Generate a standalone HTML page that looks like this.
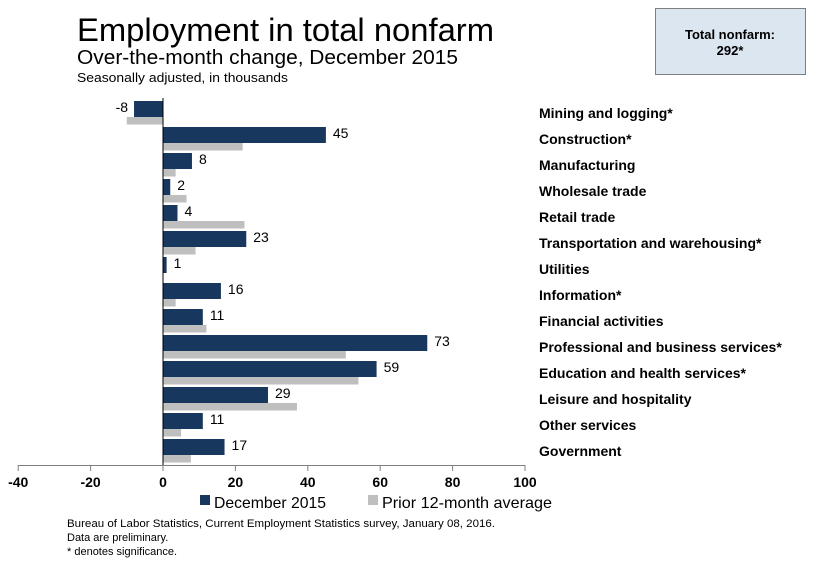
<!DOCTYPE html>
<html><head><meta charset="utf-8"><style>
body{margin:0;background:#fff;font-family:"Liberation Sans","DejaVu Sans",sans-serif;}
#wrap{position:relative;width:817px;height:571px;overflow:hidden;}
</style></head><body>
<div id="wrap">
<svg id="svg" width="817" height="571" xmlns="http://www.w3.org/2000/svg">
<text x="77" y="41" font-size="32" textLength="417" lengthAdjust="spacingAndGlyphs" fill="#000">Employment in total nonfarm</text>
<text x="77" y="64" font-size="20" textLength="381" lengthAdjust="spacingAndGlyphs" fill="#000">Over-the-month change, December 2015</text>
<text x="77" y="82" font-size="13" textLength="211" lengthAdjust="spacingAndGlyphs" fill="#000">Seasonally adjusted, in thousands</text>
<rect x="655.5" y="8.5" width="150" height="66" fill="#dce6f1" stroke="#7f7f7f"/>
<text x="730" y="39" font-size="13" font-weight="bold" text-anchor="middle">Total nonfarm:</text>
<text x="730" y="55" font-size="13" font-weight="bold" text-anchor="middle">292*</text>
<g id="plot"></g>
<rect x="200" y="495" width="10" height="10" fill="#17375e"/>
<text x="214" y="508" font-size="16" textLength="112" lengthAdjust="spacingAndGlyphs">December 2015</text>
<rect x="368" y="495" width="10" height="10" fill="#bfbfbf"/>
<text x="382" y="508" font-size="16" textLength="170" lengthAdjust="spacingAndGlyphs">Prior 12-month average</text>
<text x="67" y="527" font-size="11" textLength="428" lengthAdjust="spacingAndGlyphs">Bureau of Labor Statistics, Current Employment Statistics survey, January 08, 2016.</text>
<text x="67" y="541" font-size="11">Data are preliminary.</text>
<text x="67" y="555" font-size="11">* denotes significance.</text>
</svg>
</div>
<script>
const categories=["Mining and logging*","Construction*","Manufacturing","Wholesale trade","Retail trade","Transportation and warehousing*","Utilities","Information*","Financial activities","Professional and business services*","Education and health services*","Leisure and hospitality","Other services","Government"];
const decValues=[-8,45,8,2,4,23,1,16,11,73,59,29,11,17];
const priorValues=[-10,22,3.5,6.5,22.5,9,0,3.5,12,50.5,54,37,5,7.7];
const xTicks=[-40,-20,0,20,40,60,80,100];
const NS="http://www.w3.org/2000/svg";
const plot=document.getElementById('plot');
const x=v=>163+(v)*3.62;
const rowTop=i=>101+26*i;
function mk(t,a){const e=document.createElementNS(NS,t);for(const k in a)e.setAttribute(k,a[k]);plot.appendChild(e);return e;}
categories.forEach((c,i)=>{
  const d=decValues[i],p=priorValues[i];
  const b=mk('rect',{x:Math.min(x(0),x(d)),y:rowTop(i),width:Math.abs(x(d)-x(0)),height:16,fill:'#17375e'});
  
  
  const g=mk('rect',{x:Math.min(x(0),x(p)),y:rowTop(i)+16,width:Math.abs(x(p)-x(0)),height:7.5,fill:'#bfbfbf'});
  
  
  const lx=d>=0?x(d)+7:x(d)-6;
  const t=mk('text',{x:lx,y:rowTop(i)+11,'font-size':14,'text-anchor':d>=0?'start':'end'});
  t.textContent=String(d);
  
  
  const cl=mk('text',{x:539,y:rowTop(i)+17,'font-size':14,'font-weight':'bold'});
  cl.textContent=c;
  
  
});
const z=mk('line',{x1:x(0),x2:x(0),y1:98,y2:465,stroke:'#000','stroke-width':1});


const ax=mk('line',{x1:x(-40),x2:x(100),y1:465.5,y2:465.5,stroke:'#7f7f7f','stroke-width':1});


xTicks.forEach((v,i)=>{
  const tk=mk('line',{x1:x(v),x2:x(v),y1:465,y2:471,stroke:'#7f7f7f'});
  
  
  const tl=mk('text',{x:x(v),y:487,'font-size':14,'font-weight':'bold','text-anchor':'middle'});
  tl.textContent=String(v);
  
  
});
</script>
</body></html>
